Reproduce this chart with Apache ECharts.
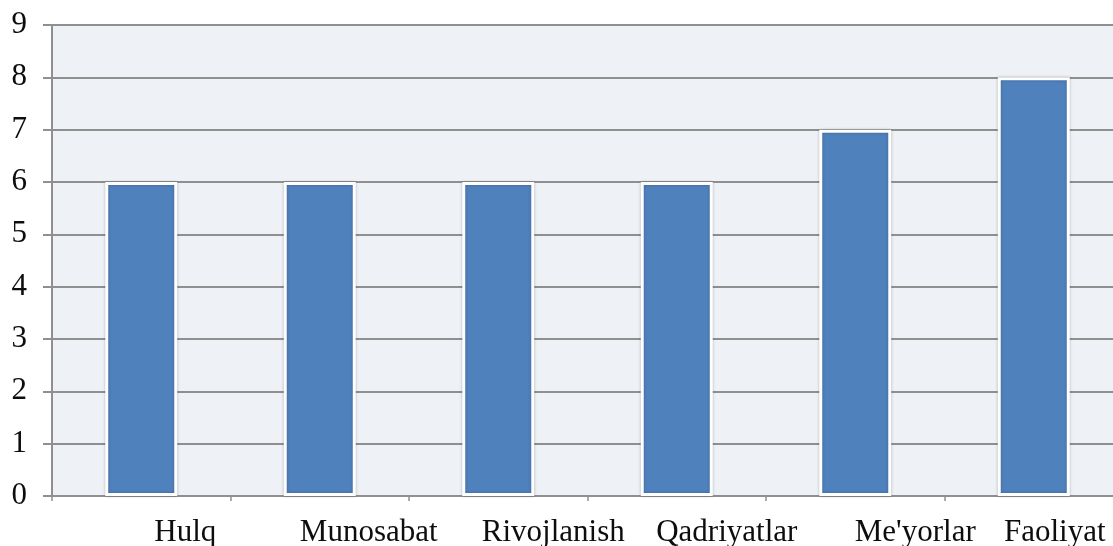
<!DOCTYPE html>
<html>
<head>
<meta charset="utf-8">
<script src="https://cdn.jsdelivr.net/npm/echarts@6/dist/echarts.min.js"></script>
<style>html,body{margin:0;padding:0;background:#fff}#c{width:1113px;height:546px}</style>
</head>
<body>
<div id="c"></div>
<script>
const categories = ["Hulq", "Munosabat", "Rivojlanish", "Qadriyatlar", "Me'yorlar", "Faoliyat"];
const values = [6, 6, 6, 6, 7, 8];
const labelShift = [88, 98, 110, 100, 120, 42];

const chart = echarts.init(document.getElementById('c'), null, {renderer: 'canvas'});
chart.setOption({
  animation: false,
  backgroundColor: '#ffffff',
  grid: {left: 52, right: -10, top: 25, bottom: 50, outerBoundsMode: 'none', containLabel: false,
         show: true, backgroundColor: '#EEF2F7', borderWidth: 0},
  xAxis: {
    type: 'category',
    data: categories.map((c, i) => ({value: c, textStyle: {padding: [0, 0, 0, labelShift[i]]}})),
    boundaryGap: true,
    axisLine: {show: true, lineStyle: {color: '#8f8f8f', width: 2}},
    axisTick: {show: true, alignWithLabel: false, length: 5, lineStyle: {color: '#8f8f8f', width: 1.5}},
    axisLabel: {interval: 0, margin: 21, fontFamily: 'Liberation Serif', fontSize: 31, color: '#0d0d0d'},
    splitLine: {show: false}
  },
  yAxis: {
    type: 'value',
    min: 0, max: 9, interval: 1,
    axisLine: {show: true, lineStyle: {color: '#8f8f8f', width: 2}},
    axisTick: {show: true, length: 9, lineStyle: {color: '#8f8f8f', width: 2}},
    axisLabel: {margin: 25, fontFamily: 'Liberation Serif', fontSize: 31, color: '#0d0d0d'},
    splitLine: {show: true, lineStyle: {color: '#8f8f8f', width: 2}}
  },
  series: [{
    type: 'bar',
    data: values,
    barWidth: 72,
    itemStyle: {color: '#4F81BD', borderColor: '#ffffff', borderWidth: 3, shadowBlur: 3, shadowColor: 'rgba(0,0,0,0.25)'}
  }]
});
</script>
</body>
</html>
